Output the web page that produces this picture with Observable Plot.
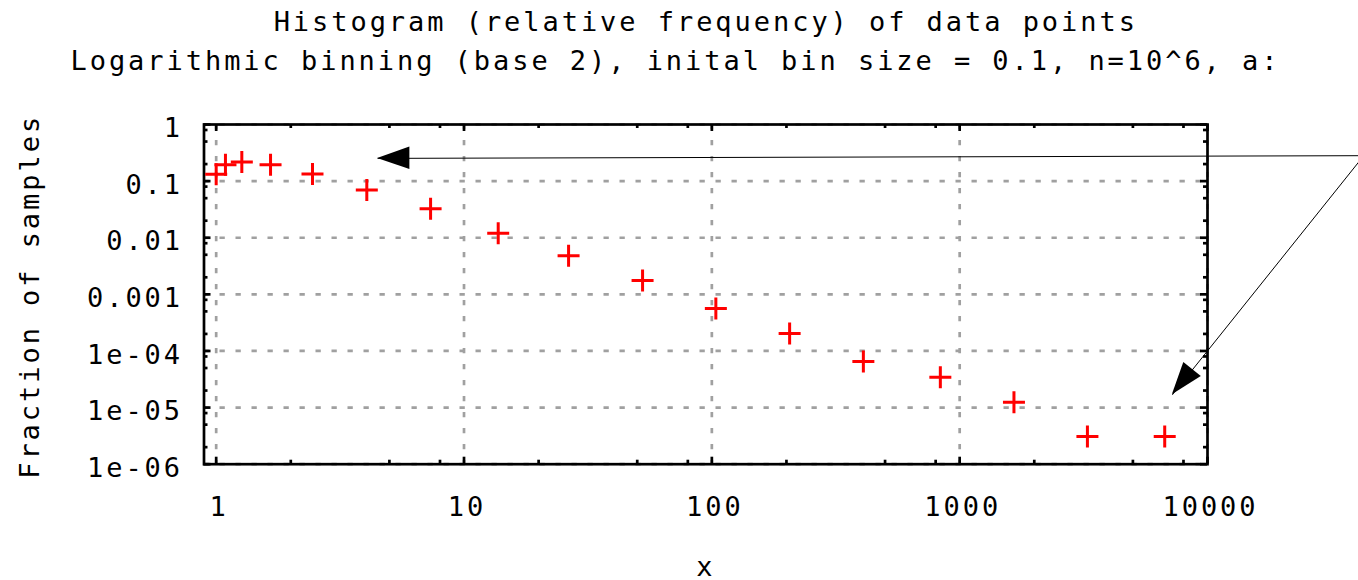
<!DOCTYPE html>
<html>
<head>
<meta charset="utf-8">
<script src="https://cdn.jsdelivr.net/npm/d3@7"></script>
<script src="https://cdn.jsdelivr.net/npm/@observablehq/plot@0.6"></script>
<style>
  html, body { margin: 0; padding: 0; background: #ffffff; }
</style>
</head>
<body>
<div id="chart"></div>
<script>
// ---- Data ----
const xValues = [1.0, 1.09, 1.269, 1.657, 2.447, 4.053, 7.33, 13.74, 26.42, 52.54, 103.8, 206.0, 408.7, 835.6, 1656, 3277, 6720];
const yValues = [0.1327, 0.1952, 0.2178, 0.1952, 0.1337, 0.0698, 0.0326, 0.01196, 0.00483, 0.00175, 0.00056, 0.000203, 6.5e-5, 3.44e-5, 1.24e-5, 3.08e-6, 3.08e-6];

const xMajorTicks = [1, 10, 100, 1000, 10000];
const xTickLabels = ["1", "10", "100", "1000", "10000"];
const xMinorTicks = [2, 5, 8, 20, 50, 80, 200, 500, 800, 2000, 5000, 8000];
const yMajorTicks = [1, 0.1, 0.01, 0.001, 1e-4, 1e-5, 1e-6];
const yTickLabels = ["1", "0.1", "0.01", "0.001", "1e-04", "1e-05", "1e-06"];
const yMinorTicks = [0.8, 0.5, 0.2, 0.08, 0.05, 0.02, 0.008, 0.005, 0.002, 8e-4, 5e-4, 2e-4, 8e-5, 5e-5, 2e-5, 8e-6, 5e-6, 2e-6];

// annotation arrows (data coordinates): start -> tip
const arrowX1 = [42720, 42720];
const arrowY1 = [0.2813, 0.2813];
const arrowX2 = [4.48, 7215];
const arrowY2 = [0.252, 1.68e-5];

const titleLine1 = "Histogram (relative frequency) of data points";
const titleLine2 = "Logarithmic binning (base 2), inital bin size = 0.1, n=10^6, a:";
const xLabel = "x";
const yLabel = "Fraction of samples";

// ---- Layout ----
const W = 1358, H = 580;
const mL = 203.5, mR = 151, mT = 124, mB = 116.3;
const frameH = H - mT - mB;
const frameW = W - mL - mR;

const points = xValues.map((x, i) => ({x, y: yValues[i]}));
const arrows = arrowX1.map((x1, i) => ({x1, y1: arrowY1[i], x2: arrowX2[i], y2: arrowY2[i]}));
const xLab = new Map(xMajorTicks.map((d, i) => [d, xTickLabels[i]]));
const yLab = new Map(yMajorTicks.map((d, i) => [d, yTickLabels[i]]));

const plusSymbol = {
  draw(ctx, size) {
    const r = Math.sqrt(size / Math.PI);
    ctx.moveTo(-r, 0); ctx.lineTo(r, 0);
    ctx.moveTo(0, -r); ctx.lineTo(0, r);
  }
};

const gridStyle = {stroke: "#a0a0a0", strokeOpacity: 1, strokeWidth: 2.7, strokeDasharray: "5.3,10.7"};
const tickStyle = {stroke: "#000", strokeWidth: 2.7};

const chart = Plot.plot({
  width: W, height: H,
  marginLeft: mL, marginRight: mR, marginTop: mT, marginBottom: mB,
  style: {fontFamily: "'DejaVu Sans Mono', monospace", fontSize: "27px", letterSpacing: "2.95px", background: "#fff", color: "#000", overflow: "visible"},
  x: {type: "log", domain: [0.893, 10000]},
  y: {type: "log", domain: [1e-6, 1]},
  marks: [
    Plot.ruleX(xMajorTicks, gridStyle),
    Plot.ruleY(yMajorTicks, gridStyle),
    // inward ticks on all four sides
    Plot.ruleX(xMajorTicks, {...tickStyle, insetTop: frameH - 7}),
    Plot.ruleX(xMajorTicks, {...tickStyle, insetBottom: frameH - 7}),
    Plot.ruleX(xMinorTicks, {...tickStyle, insetTop: frameH - 4}),
    Plot.ruleX(xMinorTicks, {...tickStyle, insetBottom: frameH - 4}),
    Plot.ruleY(yMajorTicks, {...tickStyle, insetRight: frameW - 7}),
    Plot.ruleY(yMajorTicks, {...tickStyle, insetLeft: frameW - 7}),
    Plot.ruleY(yMinorTicks, {...tickStyle, insetRight: frameW - 4}),
    Plot.ruleY(yMinorTicks, {...tickStyle, insetLeft: frameW - 4}),
    Plot.frame({stroke: "#000", strokeWidth: 2.7}),
    Plot.axisX({ticks: xMajorTicks, tickSize: 0, tickPadding: 33, tickFormat: d => xLab.get(d), label: null, dx: 3}),
    Plot.axisY({ticks: yMajorTicks, tickSize: 0, tickPadding: 21, tickFormat: d => yLab.get(d), label: null, dy: 4}),
    Plot.dot(points, {x: "x", y: "y", symbol: plusSymbol, r: 11, stroke: "#ff0000", strokeWidth: 3, fill: "none"}),
    Plot.link(arrows, {x1: "x1", y1: "y1", x2: "x2", y2: "y2", stroke: "#000", strokeWidth: 1}),
    Plot.text([titleLine1], {text: d => d, frameAnchor: "top", lineAnchor: "middle", dy: -102}),
    Plot.text([titleLine2], {text: d => d, frameAnchor: "top-left", textAnchor: "start", lineAnchor: "middle", dx: 70 - mL, dy: -63}),
    Plot.text([xLabel], {text: d => d, frameAnchor: "bottom", lineAnchor: "middle", dy: 103}),
    Plot.text([yLabel], {text: d => d, frameAnchor: "left", textAnchor: "middle", lineAnchor: "middle", rotate: -90, dx: 30 - mL, dy: 2})
  ]
});

// filled arrowheads placed through the plot's own scales
const sx = chart.scale("x"), sy = chart.scale("y");
const svg = d3.select(chart);
arrows.forEach(a => {
  const x1 = sx.apply(a.x1), y1 = sy.apply(a.y1), x2 = sx.apply(a.x2), y2 = sy.apply(a.y2);
  const ang = Math.atan2(y1 - y2, x1 - x2);
  const L = 32.3, w = 11.2;
  const bx = x2 + L * Math.cos(ang), by = y2 + L * Math.sin(ang);
  const px = -Math.sin(ang) * w, py = Math.cos(ang) * w;
  svg.append("path")
    .attr("d", `M${x2},${y2}L${bx + px},${by + py}L${bx - px},${by - py}Z`)
    .attr("fill", "#000");
});

document.getElementById("chart").appendChild(chart);
</script>
</body>
</html>
